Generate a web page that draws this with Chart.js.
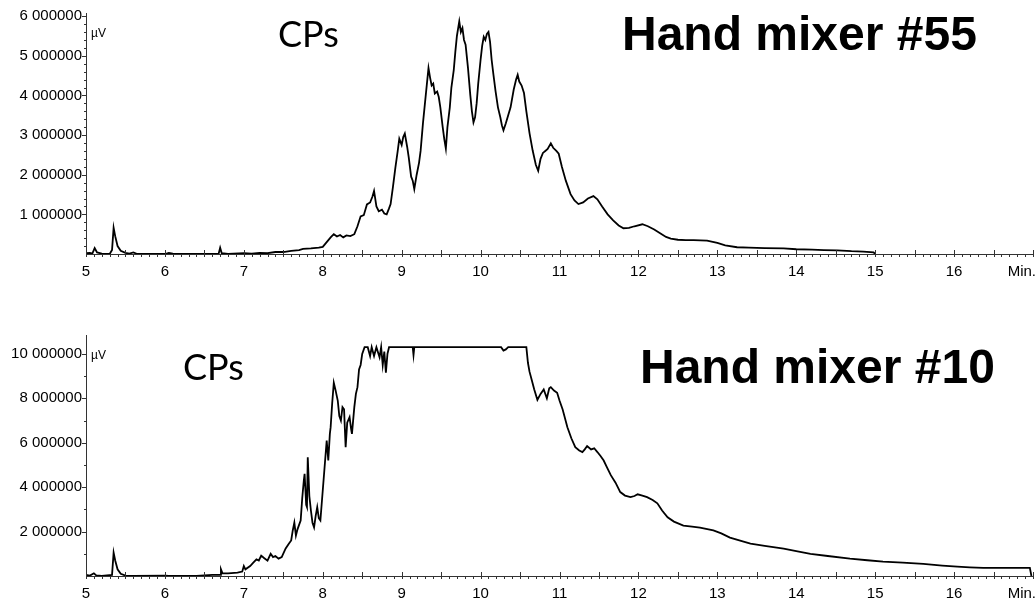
<!DOCTYPE html>
<html>
<head>
<meta charset="utf-8">
<script src="https://cdn.jsdelivr.net/npm/chart.js@4/dist/chart.umd.min.js"></script>
<style>
  body { margin: 0; background: #fff; width: 1036px; height: 602px; overflow: hidden; position: relative; }
  .box { position: absolute; left: 0; width: 1036px; }
  #topBox { top: 0; height: 290px; }
  #botBox { top: 300px; height: 302px; }
</style>
</head>
<body>
<div class="box" id="topBox"><canvas id="chartTop"></canvas></div>
<div class="box" id="botBox"><canvas id="chartBot"></canvas></div>
<script>
// x in minutes, signal in units of 1 000000 µV
const xTickLabels = [5, 6, 7, 8, 9, 10, 11, 12, 13, 14, 15, 16]

const topTicks = [1, 2, 3, 4, 5, 6]
const topTimes = [5.00, 5.05, 5.08, 5.11, 5.14, 5.20, 5.30, 5.33, 5.35, 5.37, 5.40, 5.44, 5.50, 5.55, 5.60, 5.65,
  6.00, 6.05, 6.10, 6.20, 6.68, 6.70, 6.72, 6.80, 7.00, 7.10, 7.20, 7.30, 7.40, 7.50, 7.60, 7.70, 7.75, 7.85, 7.95,
  8.00, 8.05, 8.10, 8.14, 8.18, 8.22, 8.26, 8.30, 8.35, 8.40, 8.44, 8.48, 8.52, 8.56, 8.60, 8.63, 8.65, 8.68, 8.71,
  8.75, 8.78, 8.81, 8.84, 8.86, 8.89, 8.92, 8.95, 8.97, 9.00, 9.02, 9.04, 9.07, 9.09, 9.12, 9.14, 9.16, 9.19, 9.22,
  9.24, 9.27, 9.30, 9.32, 9.34, 9.36, 9.38, 9.40, 9.42, 9.45, 9.47, 9.49, 9.52, 9.54, 9.56, 9.58, 9.61, 9.63, 9.66,
  9.68, 9.70, 9.72, 9.73, 9.75, 9.77, 9.79, 9.81, 9.84, 9.87, 9.89, 9.91, 9.93, 9.95, 9.97, 10.00, 10.02, 10.04,
  10.06, 10.08, 10.10, 10.12, 10.14, 10.16, 10.19, 10.22, 10.25, 10.27, 10.29, 10.32, 10.35, 10.38, 10.42, 10.45,
  10.47, 10.49, 10.52, 10.55, 10.58, 10.62, 10.66, 10.70, 10.73, 10.76, 10.79, 10.82, 10.85, 10.89, 10.92, 10.96,
  10.99, 11.03, 11.08, 11.14, 11.19, 11.24, 11.30, 11.36, 11.43, 11.48, 11.54, 11.61, 11.68, 11.75, 11.81, 11.88,
  11.95, 12.05, 12.12, 12.20, 12.28, 12.35, 12.41, 12.50, 12.60, 12.70, 12.87, 13.00, 13.10, 13.25, 13.40, 13.60,
  13.84, 14.00, 14.20, 14.35, 14.52, 14.70, 14.85, 14.98, 15.00]
const topSignal = [0.02, 0.03, 0.01, 0.15, 0.04, 0.01, 0.00, 0.10, 0.66, 0.45, 0.20, 0.08, 0.03, 0.01, 0.04, 0.00,
  0.00, 0.03, 0.01, 0.00, 0.00, 0.16, 0.02, 0.00, 0.02, 0.01, 0.03, 0.02, 0.05, 0.05, 0.08, 0.10, 0.13, 0.14, 0.16,
  0.18, 0.30, 0.42, 0.50, 0.44, 0.48, 0.42, 0.47, 0.45, 0.50, 0.70, 0.95, 0.98, 1.25, 1.30, 1.45, 1.59, 1.20, 1.08,
  1.12, 1.02, 1.00, 1.15, 1.26, 1.70, 2.17, 2.60, 2.91, 2.75, 2.95, 3.04, 2.70, 2.43, 1.95, 1.85, 1.64, 2.00, 2.30,
  2.60, 3.30, 3.90, 4.30, 4.69, 4.45, 4.25, 4.30, 4.05, 4.10, 3.96, 3.70, 3.20, 2.90, 2.66, 3.20, 3.70, 4.20, 4.64,
  5.10, 5.50, 5.75, 5.87, 5.60, 5.70, 5.40, 5.28, 4.70, 4.00, 3.60, 3.32, 3.45, 3.80, 4.30, 4.90, 5.25, 5.48,
  5.40, 5.55, 5.60, 5.35, 4.90, 4.57, 4.10, 3.70, 3.45, 3.25, 3.12, 3.30, 3.50, 3.70, 4.15, 4.40,
  4.52, 4.35, 4.25, 4.06, 3.60, 3.05, 2.61, 2.25, 2.10, 2.40, 2.55, 2.60, 2.65, 2.79, 2.68, 2.60,
  2.53, 2.20, 1.85, 1.51, 1.35, 1.26, 1.30, 1.40, 1.46, 1.38, 1.20, 1.00, 0.85, 0.72, 0.65, 0.66,
  0.70, 0.75, 0.70, 0.62, 0.52, 0.43, 0.39, 0.36, 0.35, 0.35, 0.34, 0.28, 0.22, 0.17, 0.16, 0.15,
  0.14, 0.12, 0.11, 0.10, 0.09, 0.07, 0.06, 0.04, 0.00]

const botTicks = [2, 4, 6, 8, 10]
const botTimes = [5.00, 5.05, 5.10, 5.13, 5.20, 5.33, 5.35, 5.37, 5.40, 5.44, 5.50, 5.60, 6.00, 6.05, 6.40, 6.60,
  6.70, 6.71, 6.73, 6.80, 6.92, 6.98, 7.00, 7.02, 7.08, 7.12, 7.16, 7.19, 7.22, 7.26, 7.30, 7.34, 7.37, 7.40, 7.44,
  7.48, 7.53, 7.57, 7.60, 7.62, 7.64, 7.66, 7.68, 7.70, 7.72, 7.74, 7.76, 7.77, 7.79, 7.80, 7.81, 7.83, 7.85, 7.87,
  7.89, 7.91, 7.93, 7.95, 7.97, 7.99, 8.01, 8.03, 8.05, 8.07, 8.09, 8.10, 8.12, 8.14, 8.16, 8.19, 8.21, 8.23, 8.25,
  8.27, 8.29, 8.31, 8.34, 8.36, 8.37, 8.40, 8.42, 8.44, 8.46, 8.48, 8.50, 8.53, 8.57, 8.60, 8.62, 8.65, 8.68, 8.72,
  8.74, 8.76, 8.78, 8.80, 8.82, 8.84, 9.14, 9.15, 9.16, 10.26, 10.29, 10.32, 10.35, 10.58, 10.60, 10.62, 10.65,
  10.68, 10.72, 10.76, 10.80, 10.84, 10.87, 10.89, 10.93, 10.97, 11.00, 11.04, 11.10, 11.15, 11.20, 11.25, 11.29,
  11.32, 11.35, 11.40, 11.44, 11.48, 11.52, 11.56, 11.60, 11.65, 11.71, 11.77, 11.83, 11.90, 11.95, 11.99, 12.05,
  12.11, 12.18, 12.24, 12.30, 12.37, 12.45, 12.57, 12.68, 12.78, 12.95, 13.05, 13.16, 13.30, 13.42, 13.60, 13.84,
  14.00, 14.18, 14.40, 14.68, 14.90, 15.10, 15.35, 15.61, 15.85, 16.04, 16.20, 16.37, 16.70, 16.96, 16.98]
const botSignal = [0.05, 0.02, 0.12, 0.03, 0.00, 0.05, 1.05, 0.70, 0.30, 0.10, 0.02, 0.00, 0.02, 0.00, 0.00, 0.05,
  0.05, 0.30, 0.12, 0.12, 0.15, 0.20, 0.45, 0.30, 0.45, 0.60, 0.75, 0.70, 0.92, 0.80, 0.69, 1.00, 0.85, 0.90, 0.78,
  0.85, 1.24, 1.45, 1.60, 2.05, 2.40, 1.82, 2.10, 2.30, 2.50, 3.50, 4.30, 4.60, 3.20, 3.10, 5.35, 3.60, 2.95, 2.40,
  2.19, 2.70, 3.10, 2.60, 2.50, 3.40, 4.30, 5.20, 6.10, 5.20, 6.40, 6.70, 7.80, 8.70, 8.40, 7.90, 7.20, 7.00, 7.60,
  7.50, 5.80, 6.90, 7.15, 6.60, 6.40, 7.60, 8.20, 8.50, 9.30, 9.50, 10.00, 10.30, 10.30, 9.90, 10.30, 9.90, 10.30, 9.85,
  10.30, 9.50, 10.10, 9.15, 10.00, 10.30, 10.30, 9.95, 10.30, 10.30, 10.15, 10.20, 10.30, 10.30, 9.60, 9.20, 8.80,
  8.40, 7.93, 8.20, 8.40, 8.00, 8.45, 8.50, 8.35, 8.25, 7.90, 7.50, 6.70, 6.20, 5.80, 5.65, 5.58,
  5.70, 5.85, 5.70, 5.75, 5.58, 5.40, 5.20, 4.90, 4.54, 4.20, 3.78, 3.62, 3.55, 3.60, 3.68, 3.62,
  3.55, 3.42, 3.27, 2.95, 2.64, 2.45, 2.27, 2.22, 2.18, 2.05, 1.92, 1.73, 1.58, 1.46, 1.36, 1.23,
  1.12, 1.00, 0.90, 0.78, 0.71, 0.65, 0.60, 0.55, 0.47, 0.42, 0.39, 0.37, 0.37, 0.37, 0.00]

const axisColor = '#333'

// draws minor/major tick marks and the free text (titles, units)
const decor = {
  id: 'decor',
  afterDraw(chart, args, o) {
    const ctx = chart.ctx
    const xs = chart.scales.x, ys = chart.scales.y
    const area = chart.chartArea
    ctx.save()
    ctx.strokeStyle = axisColor
    ctx.lineWidth = 1
    ctx.beginPath()
    for (let i = 0; i <= 120; i++) {
      const px = Math.round(xs.getPixelForValue(5 + i / 10)) + 0.5
      const major = i % 5 === 0
      ctx.moveTo(px, area.bottom + (major ? -4 : 0))
      ctx.lineTo(px, area.bottom + 3)
    }
    const n = Math.floor(ys.max / o.yMinor + 1e-6)
    for (let i = 1; i <= n; i++) {
      const v = i * o.yMinor
      const py = Math.round(ys.getPixelForValue(v)) + 0.5
      const major = o.yMajor.some(t => Math.abs(t - v) < 1e-6)
      ctx.moveTo(area.left - (major ? 4 : 2), py)
      ctx.lineTo(area.left, py)
    }
    ctx.stroke()
    ctx.fillStyle = '#000'
    ctx.textBaseline = 'alphabetic'
    o.texts.forEach(t => {
      ctx.font = t.font
      ctx.textAlign = t.align || 'left'
      ctx.fillText(t.text, t.x, t.y)
    })
    ctx.restore()
  }
}

function makeChart(id, times, signal, yMax, yTicks, yMinor, xAxisH, padTop, texts) {
  return new Chart(document.getElementById(id), {
    type: 'line',
    data: {
      datasets: [{
        data: times.map((t, i) => ({ x: t, y: signal[i] })),
        borderColor: '#000',
        borderWidth: 1.8,
        pointRadius: 0,
        tension: 0,
        fill: false
      }]
    },
    options: {
      responsive: true,
      maintainAspectRatio: false,
      animation: false,
      layout: { padding: { top: padTop, right: 3, left: 0, bottom: 0 } },
      plugins: {
        legend: { display: false },
        tooltip: { enabled: false },
        decor: { yMajor: yTicks, yMinor: yMinor, texts: texts }
      },
      scales: {
        x: {
          type: 'linear',
          min: 5,
          max: 17,
          afterBuildTicks: s => { s.ticks = xTickLabels.map(v => ({ value: v })) },
          afterFit: s => { s.height = xAxisH },
          grid: { display: false, drawTicks: false },
          border: { display: true, color: axisColor, width: 1 },
          ticks: {
            padding: 9,
            maxRotation: 0,
            autoSkip: false,
            color: '#000',
            font: { family: '"Liberation Sans", Arial, sans-serif', size: 15 }
          }
        },
        y: {
          min: 0,
          max: yMax,
          afterBuildTicks: s => { s.ticks = yTicks.map(v => ({ value: v })) },
          afterFit: s => { s.width = 86 },
          grid: { display: false, drawTicks: false },
          border: { display: true, color: axisColor, width: 1 },
          ticks: {
            padding: 4,
            color: '#000',
            font: { family: '"Liberation Sans", Arial, sans-serif', size: 15 },
            callback: v => v + ' 000000'
          }
        }
      }
    },
    plugins: [decor]
  })
}

makeChart('chartTop', topTimes, topSignal, 6.08, topTicks, 0.2, 36, 13, [
  { text: 'CPs', font: '36px Lato, "Open Sans", sans-serif', x: 278, y: 47 },
  { text: 'Hand mixer #55', font: 'bold 48px "Liberation Sans", Arial, sans-serif', x: 622, y: 50 },
  { text: 'µV', font: '12px "Liberation Sans", Arial, sans-serif', x: 91, y: 37 },
  { text: 'Min.', font: '15px "Liberation Sans", Arial, sans-serif', x: 1036, y: 276, align: 'right' }
])

makeChart('chartBot', botTimes, botSignal, 10.85, botTicks, 1, 26, 35, [
  { text: 'CPs', font: '36px Lato, "Open Sans", sans-serif', x: 183, y: 80 },
  { text: 'Hand mixer #10', font: 'bold 48px "Liberation Sans", Arial, sans-serif', x: 640, y: 83 },
  { text: 'µV', font: '12px "Liberation Sans", Arial, sans-serif', x: 91, y: 59 },
  { text: 'Min.', font: '15px "Liberation Sans", Arial, sans-serif', x: 1036, y: 298, align: 'right' }
])
</script>
</body>
</html>
